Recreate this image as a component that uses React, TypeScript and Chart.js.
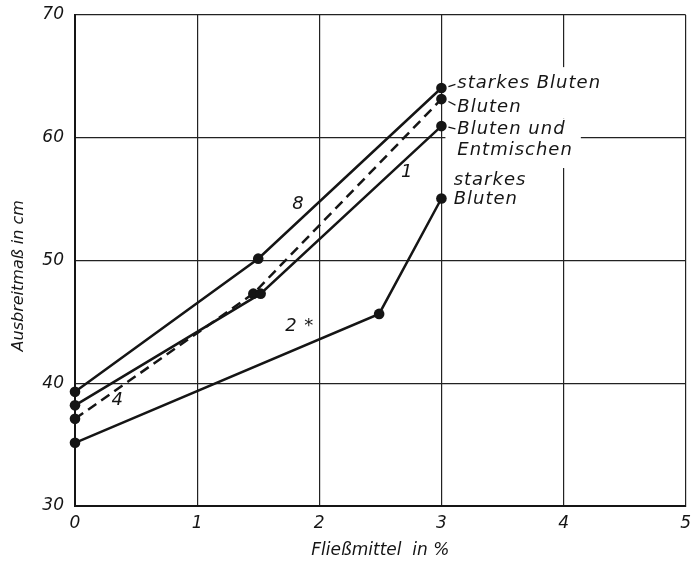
import React, { useEffect, useRef } from 'react';
import { Chart, registerables } from 'chart.js';

Chart.register(...registerables);

// ---- data ----
const xMin = 0, xMax = 5, xStep = 1;
const yMin = 30, yMax = 70, yStep = 10;

const s8X = [0, 1.5, 3];
const s8Y = [39.3, 50.15, 64.05];
const s1X = [0, 1.52, 3];
const s1Y = [38.2, 47.3, 60.95];
const s4X = [0, 1.46, 3];
const s4Y = [37.1, 47.3, 63.15];
const s2X = [0, 2.49, 3];
const s2Y = [35.15, 45.65, 55.05];

const seriesNames = ['8', '1', '4', '2 *'];
const seriesLabelX = [1.83, 2.72, 0.35, 1.84];
const seriesLabelY = [54.6, 57.2, 38.6, 44.6];

const noteTexts = ['starkes Bluten', 'Bluten', 'Bluten und', 'Entmischen', 'starkes', 'Bluten'];
const noteX = [3.13, 3.13, 3.13, 3.13, 3.1, 3.1];
const noteY = [64.45, 62.5, 60.65, 59.0, 56.55, 54.95];

const xTitle = 'Fließmittel  in %';
const yTitle = 'Ausbreitmaß in cm      ';

const INK = '#151515';
const FONT = '"DejaVu Sans", sans-serif';

const toPts = (xs: number[], ys: number[]) => xs.map((x, i) => ({ x, y: ys[i] }));

const setNoteFont = (ctx: any, size: number) => {
  ctx.font = `italic ${size}px ${FONT}`;
  try { ctx.letterSpacing = '1px'; } catch (e) { /* ignore */ }
};

const notesPlugin = {
  id: 'notes',
  beforeDatasetsDraw(chart: any) {
    const { ctx, scales } = chart;
    const xs = scales.x, ys = scales.y;
    ctx.save();
    setNoteFont(ctx, 18);
    const w = noteTexts.map((t) => ctx.measureText(t).width);
    const left = xs.getPixelForValue(3) + 4;
    const x0 = xs.getPixelForValue(noteX[0]);
    const top = ys.getPixelForValue(noteY[0]) - 16;
    const mid = (ys.getPixelForValue(noteY[1]) + ys.getPixelForValue(noteY[2])) / 2;
    const bottom = ys.getPixelForValue(noteY[3]) + 18;
    ctx.fillStyle = '#ffffff';
    ctx.fillRect(left, top, x0 + Math.max(w[0], w[1]) + 6 - left, mid - top);
    ctx.fillRect(left, mid, x0 + Math.max(w[2], w[3]) + 8 - left, bottom - mid);
    for (let i = 4; i < 6; i++) {
      const tx = xs.getPixelForValue(noteX[i]);
      const ty = ys.getPixelForValue(noteY[i]);
      ctx.fillRect(tx - 1, ty - 10, w[i] + 3, 20);
    }
    ctx.restore();
  },
  afterDatasetsDraw(chart: any) {
    const { ctx, scales } = chart;
    const xs = scales.x, ys = scales.y;
    ctx.save();
    ctx.fillStyle = INK;
    ctx.strokeStyle = INK;
    ctx.textBaseline = 'middle';
    setNoteFont(ctx, 18);
    ctx.textAlign = 'left';
    noteTexts.forEach((t, i) => {
      ctx.fillText(t, xs.getPixelForValue(noteX[i]), ys.getPixelForValue(noteY[i]));
    });
    const dx = xs.getPixelForValue(3);
    ctx.lineWidth = 1.3;
    const leaders = [
      [s8Y[2], noteY[0]],
      [s4Y[2], noteY[1]],
      [s1Y[2], noteY[2]],
    ];
    leaders.forEach(([fromY, toY]) => {
      const y1 = ys.getPixelForValue(fromY);
      const y2 = ys.getPixelForValue(toY);
      ctx.beginPath();
      ctx.moveTo(dx + 7, y1 + (y2 - y1) * 0.3);
      ctx.lineTo(dx + 14, y1 + (y2 - y1) * 0.75);
      ctx.stroke();
    });
    setNoteFont(ctx, 18);
    ctx.textAlign = 'center';
    seriesNames.forEach((t, i) => {
      ctx.fillText(t, xs.getPixelForValue(seriesLabelX[i]), ys.getPixelForValue(seriesLabelY[i]));
    });
    ctx.restore();
  },
};

export default function App() {
  const ref = useRef<HTMLCanvasElement | null>(null);
  useEffect(() => {
    document.body.style.margin = '0';
    const canvas = ref.current;
    if (!canvas) return;
    const line = (xs: number[], ys: number[], dashed: boolean) => ({
      data: toPts(xs, ys),
      borderColor: INK,
      backgroundColor: INK,
      borderWidth: 2.5,
      borderDash: dashed ? [10, 6] : [],
      pointRadius: 5.3,
      pointBackgroundColor: INK,
      pointBorderWidth: 0,
      tension: 0,
      clip: false as any,
      fill: false,
    });
    const chart = new Chart(canvas, {
      type: 'line',
      data: {
        datasets: [
          line(s8X, s8Y, false),
          line(s1X, s1Y, false),
          line(s4X, s4Y, true),
          line(s2X, s2Y, false),
        ] as any,
      },
      options: {
        animation: false,
        responsive: false,
        devicePixelRatio: 1,
        layout: { padding: { top: 15, right: 3, left: 0, bottom: 0 } },
        plugins: { legend: { display: false }, tooltip: { enabled: false } },
        scales: {
          x: {
            type: 'linear',
            min: xMin,
            max: xMax,
            ticks: {
              stepSize: xStep,
              padding: 7,
              color: INK,
              font: { family: FONT, size: 17, style: 'italic' },
            },
            grid: { color: '#222', lineWidth: 1.2, drawTicks: false },
            border: { color: INK, width: 2 },
            title: {
              display: true,
              text: xTitle,
              color: INK,
              font: { family: FONT, size: 17, style: 'italic' },
              padding: { top: 0, bottom: 1 },
            },
            afterFit: (s: any) => {
              s.height = 56;
              s.paddingRight = 0;
              s.paddingLeft = 0;
              if (s._margins) { s._margins.right = 0; s._margins.left = 0; }
              s.getPadding = () => ({ left: 0, top: 0, right: 0, bottom: 0 });
            },
          },
          y: {
            type: 'linear',
            min: yMin,
            max: yMax,
            ticks: {
              stepSize: yStep,
              padding: 11,
              color: INK,
              font: { family: FONT, size: 17, style: 'italic' },
            },
            grid: { color: '#222', lineWidth: 1.2, drawTicks: false },
            border: { color: INK, width: 2 },
            title: {
              display: true,
              text: yTitle,
              color: INK,
              font: { family: FONT, size: 16, style: 'italic' },
              padding: { top: 9, bottom: 0 },
            },
            afterFit: (s: any) => {
              s.width = 75;
              s.paddingTop = 0;
              s.paddingBottom = 0;
            },
          },
        },
      } as any,
      plugins: [notesPlugin],
    });
    return () => chart.destroy();
  }, []);
  return (
    <div style={{ width: 691, height: 562, background: '#fff' }}>
      <canvas ref={ref} width={691} height={562} style={{ display: 'block' }} />
    </div>
  );
}
